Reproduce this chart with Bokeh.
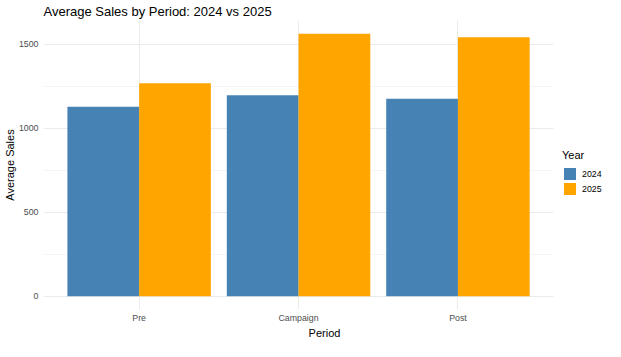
from bokeh.plotting import figure
from bokeh.models import (Range1d, FixedTicker, Legend, LegendItem,
                          ColumnDataSource, Grid)
from bokeh.transform import dodge
from bokeh.embed import file_html
from bokeh.resources import INLINE

# ---- data ----
periods = ["Pre", "Campaign", "Post"]
years = ["2024", "2025"]
sales_2024 = [1128, 1196, 1175]
sales_2025 = [1267, 1562, 1541]
y_ticks = [0, 500, 1000, 1500]
y_minor_ticks = [250, 750, 1250]
year_colors = ["#4682B4", "#FFA500"]

FONT = "Liberation Sans"

xpos = list(range(1, len(periods) + 1))
src = ColumnDataSource(dict(x=xpos, period=periods, y2024=sales_2024, y2025=sales_2025))
ymax = max(sales_2024 + sales_2025)

# discrete scale expansion as in ggplot (0.6 units each side); extra room on the
# right of the panel is used for the legend
x_lo, x_hi = 0.4, len(periods) + 0.6
x_end = x_lo + (x_hi - x_lo) * 563 / 511

p = figure(width=605, height=341,
           x_range=Range1d(x_lo, x_end),
           y_range=Range1d(-0.05 * ymax, 1.05 * ymax),
           output_backend="svg", toolbar_location=None,
           title="Average Sales by Period: 2024 vs 2025")

bar_w = 0.45
r1 = p.vbar(x=dodge("x", -bar_w / 2), top="y2024",
            width=bar_w, source=src, fill_color=year_colors[0], line_color=None)
r2 = p.vbar(x=dodge("x", bar_w / 2), top="y2025",
            width=bar_w, source=src, fill_color=year_colors[1], line_color=None)

legend = Legend(items=[LegendItem(label=years[0], renderers=[r1]),
                       LegendItem(label=years[1], renderers=[r2])],
                title="Year", location=(519, 113))
legend.title_text_font = FONT
legend.title_text_font_size = "11px"
legend.title_text_font_style = "normal"
legend.title_text_color = "black"
legend.title_standoff = 5
legend.label_text_font = FONT
legend.label_text_font_size = "8.8px"
legend.label_text_color = "black"
legend.glyph_width = 15
legend.glyph_height = 15
legend.label_height = 15
legend.label_standoff = 5
legend.spacing = 0
legend.padding = 3
legend.margin = 0
legend.border_line_color = None
legend.background_fill_alpha = 0
p.add_layout(legend, "center")

# axes
p.xaxis.ticker = FixedTicker(ticks=xpos)
p.xaxis.major_label_overrides = {x: lab for x, lab in zip(xpos, periods)}
p.yaxis.ticker = FixedTicker(ticks=y_ticks, minor_ticks=y_minor_ticks)
p.xaxis.axis_label = "Period"
p.yaxis.axis_label = "Average Sales"
for ax in (p.xaxis, p.yaxis):
    ax.axis_line_color = None
    ax.major_tick_line_color = None
    ax.minor_tick_line_color = None
    ax.major_tick_out = 0
    ax.major_tick_in = 0
    ax.minor_tick_out = 0
    ax.minor_tick_in = 0
    ax.major_label_text_font = FONT
    ax.major_label_text_font_size = "8.8px"
    ax.major_label_text_color = "#4D4D4D"
    ax.major_label_text_line_height = 1.0
    ax.axis_label_text_font = FONT
    ax.axis_label_text_font_size = "11px"
    ax.axis_label_text_font_style = "normal"
    ax.axis_label_text_color = "black"
    ax.axis_label_text_line_height = 1.0
p.yaxis.major_label_standoff = 5
p.xaxis.major_label_standoff = 3
p.yaxis.axis_label_standoff = 0
p.xaxis.axis_label_standoff = 1

# grid
p.xgrid.grid_line_color = "#EBEBEB"
p.xgrid.grid_line_width = 1
p.ygrid.grid_line_color = "#EBEBEB"
p.ygrid.grid_line_width = 1
p.ygrid.minor_grid_line_color = "#EBEBEB"
p.ygrid.minor_grid_line_width = 0.5
if "cross_bounds" in Grid.properties():
    p.ygrid.cross_bounds = (x_lo, x_hi)
p.outline_line_color = None

# title
p.title.text_font = FONT
p.title.text_font_size = "13px"
p.title.text_font_style = "normal"
p.title.text_color = "black"
p.title.align = "left"
p.title.offset = 0
p.title.standoff = 3

p.min_border_left = 0
p.min_border_right = 0
p.min_border_top = 0
p.min_border_bottom = 0

open("out.html", "w").write(file_html(p, INLINE))
